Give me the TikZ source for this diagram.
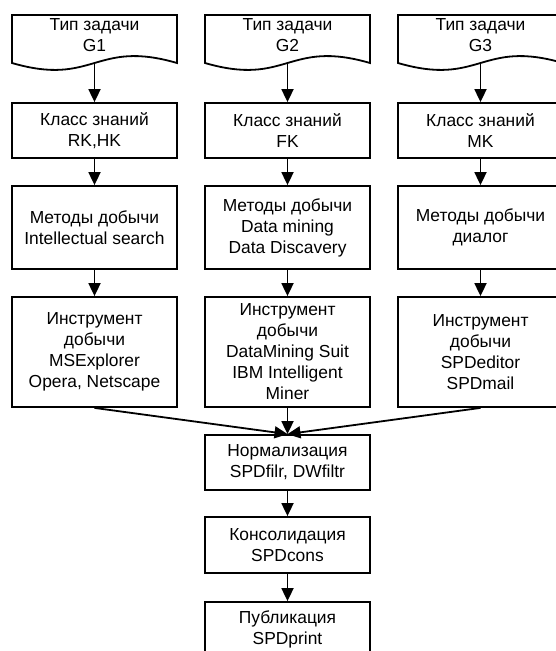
\documentclass[tikz,border=0pt]{standalone}
\usepackage{fontspec}
\setmainfont{Liberation Sans}
\usetikzlibrary{arrows.meta}
\begin{document}
\begin{tikzpicture}[x=1pt,y=-1pt,
  boxtext/.style={align=center, inner sep=0pt, font=\fontsize{17.4}{21}\selectfont},
  stage/.style={boxtext, draw, line width=1.8pt, minimum width=165pt},
  doclabel/.style={boxtext, minimum width=165pt, minimum height=40pt},
  docedge/.style={line width=1.8pt, line join=miter},
  flow/.style={line width=1.8pt, -{Triangle[length=13pt,width=12pt]}}
]
\useasboundingbox (0,0) rectangle (556,651);
\clip (0,0) rectangle (556,651);

% document-shaped headers: straight top and sides, wavy bottom edge
\foreach \cx/\nm in {94.5/g1, 287.5/g2, 480.5/g3}{
  \draw[docedge] (\cx-82.5,63) -- (\cx-82.5,15) -- (\cx+82.5,15) -- (\cx+82.5,63)
    .. controls (\cx,39) and (\cx,87) .. (\cx-82.5,63) -- cycle;
  \coordinate (\nm w) at (\cx,63);
}
\node[doclabel] (g1) at (94.5,35)  {Тип задачи\\G1};
\node[doclabel] (g2) at (287.5,35) {Тип задачи\\G2};
\node[doclabel] (g3) at (480.5,35) {Тип задачи\\G3};

% knowledge classes
\node[stage, minimum height=55pt] (k1) at (94.5,130.5)  {Класс знаний\\RK,HK};
\node[stage, minimum height=55pt] (k2) at (287.5,130.5) {Класс знаний\\FK};
\node[stage, minimum height=55pt] (k3) at (480.5,130.5) {Класс знаний\\MK};

% mining methods
\node[stage, minimum height=83pt] (m1) at (94.5,227.5)  {Методы добычи\\Intellectual search};
\node[stage, minimum height=83pt] (m2) at (287.5,227.5) {Методы добычи\\Data mining\\Data Discavery};
\node[stage, minimum height=83pt] (m3) at (480.5,227.5) {Методы добычи\\диалог};

% mining tools
\node[stage, minimum height=110pt] (t1) at (94.5,352)  {Инструмент\\добычи\\MSExplorer\\Opera, Netscape};
\node[stage, minimum height=110pt] (t2) at (287.5,352) {Инструмент\\добычи\\DataMining Suit\\IBM Intelligent\\Miner};
\node[stage, minimum height=110pt] (t3) at (480.5,352) {Инструмент\\добычи\\SPDeditor\\SPDmail};

% common chain
\node[stage, minimum height=55pt] (norm) at (287.5,462.5) {Нормализация\\SPDfilr, DWfiltr};
\node[stage, minimum height=56pt] (cons) at (287.5,545)   {Консолидация\\SPDcons};
\node[stage, minimum height=55pt] (publ) at (287.5,629.5) {Публикация\\SPDprint};

% connectors
\foreach \i in {1,2,3}{
  \draw[flow] (g\i w) -- (k\i.north);
  \draw[flow] (k\i.south) -- (m\i.north);
  \draw[flow] (m\i.south) -- (t\i.north);
  \draw[flow] (t\i.south) -- (norm.north);
}
\draw[flow] (norm.south) -- (cons.north);
\draw[flow] (cons.south) -- (publ.north);
\end{tikzpicture}
\end{document}
